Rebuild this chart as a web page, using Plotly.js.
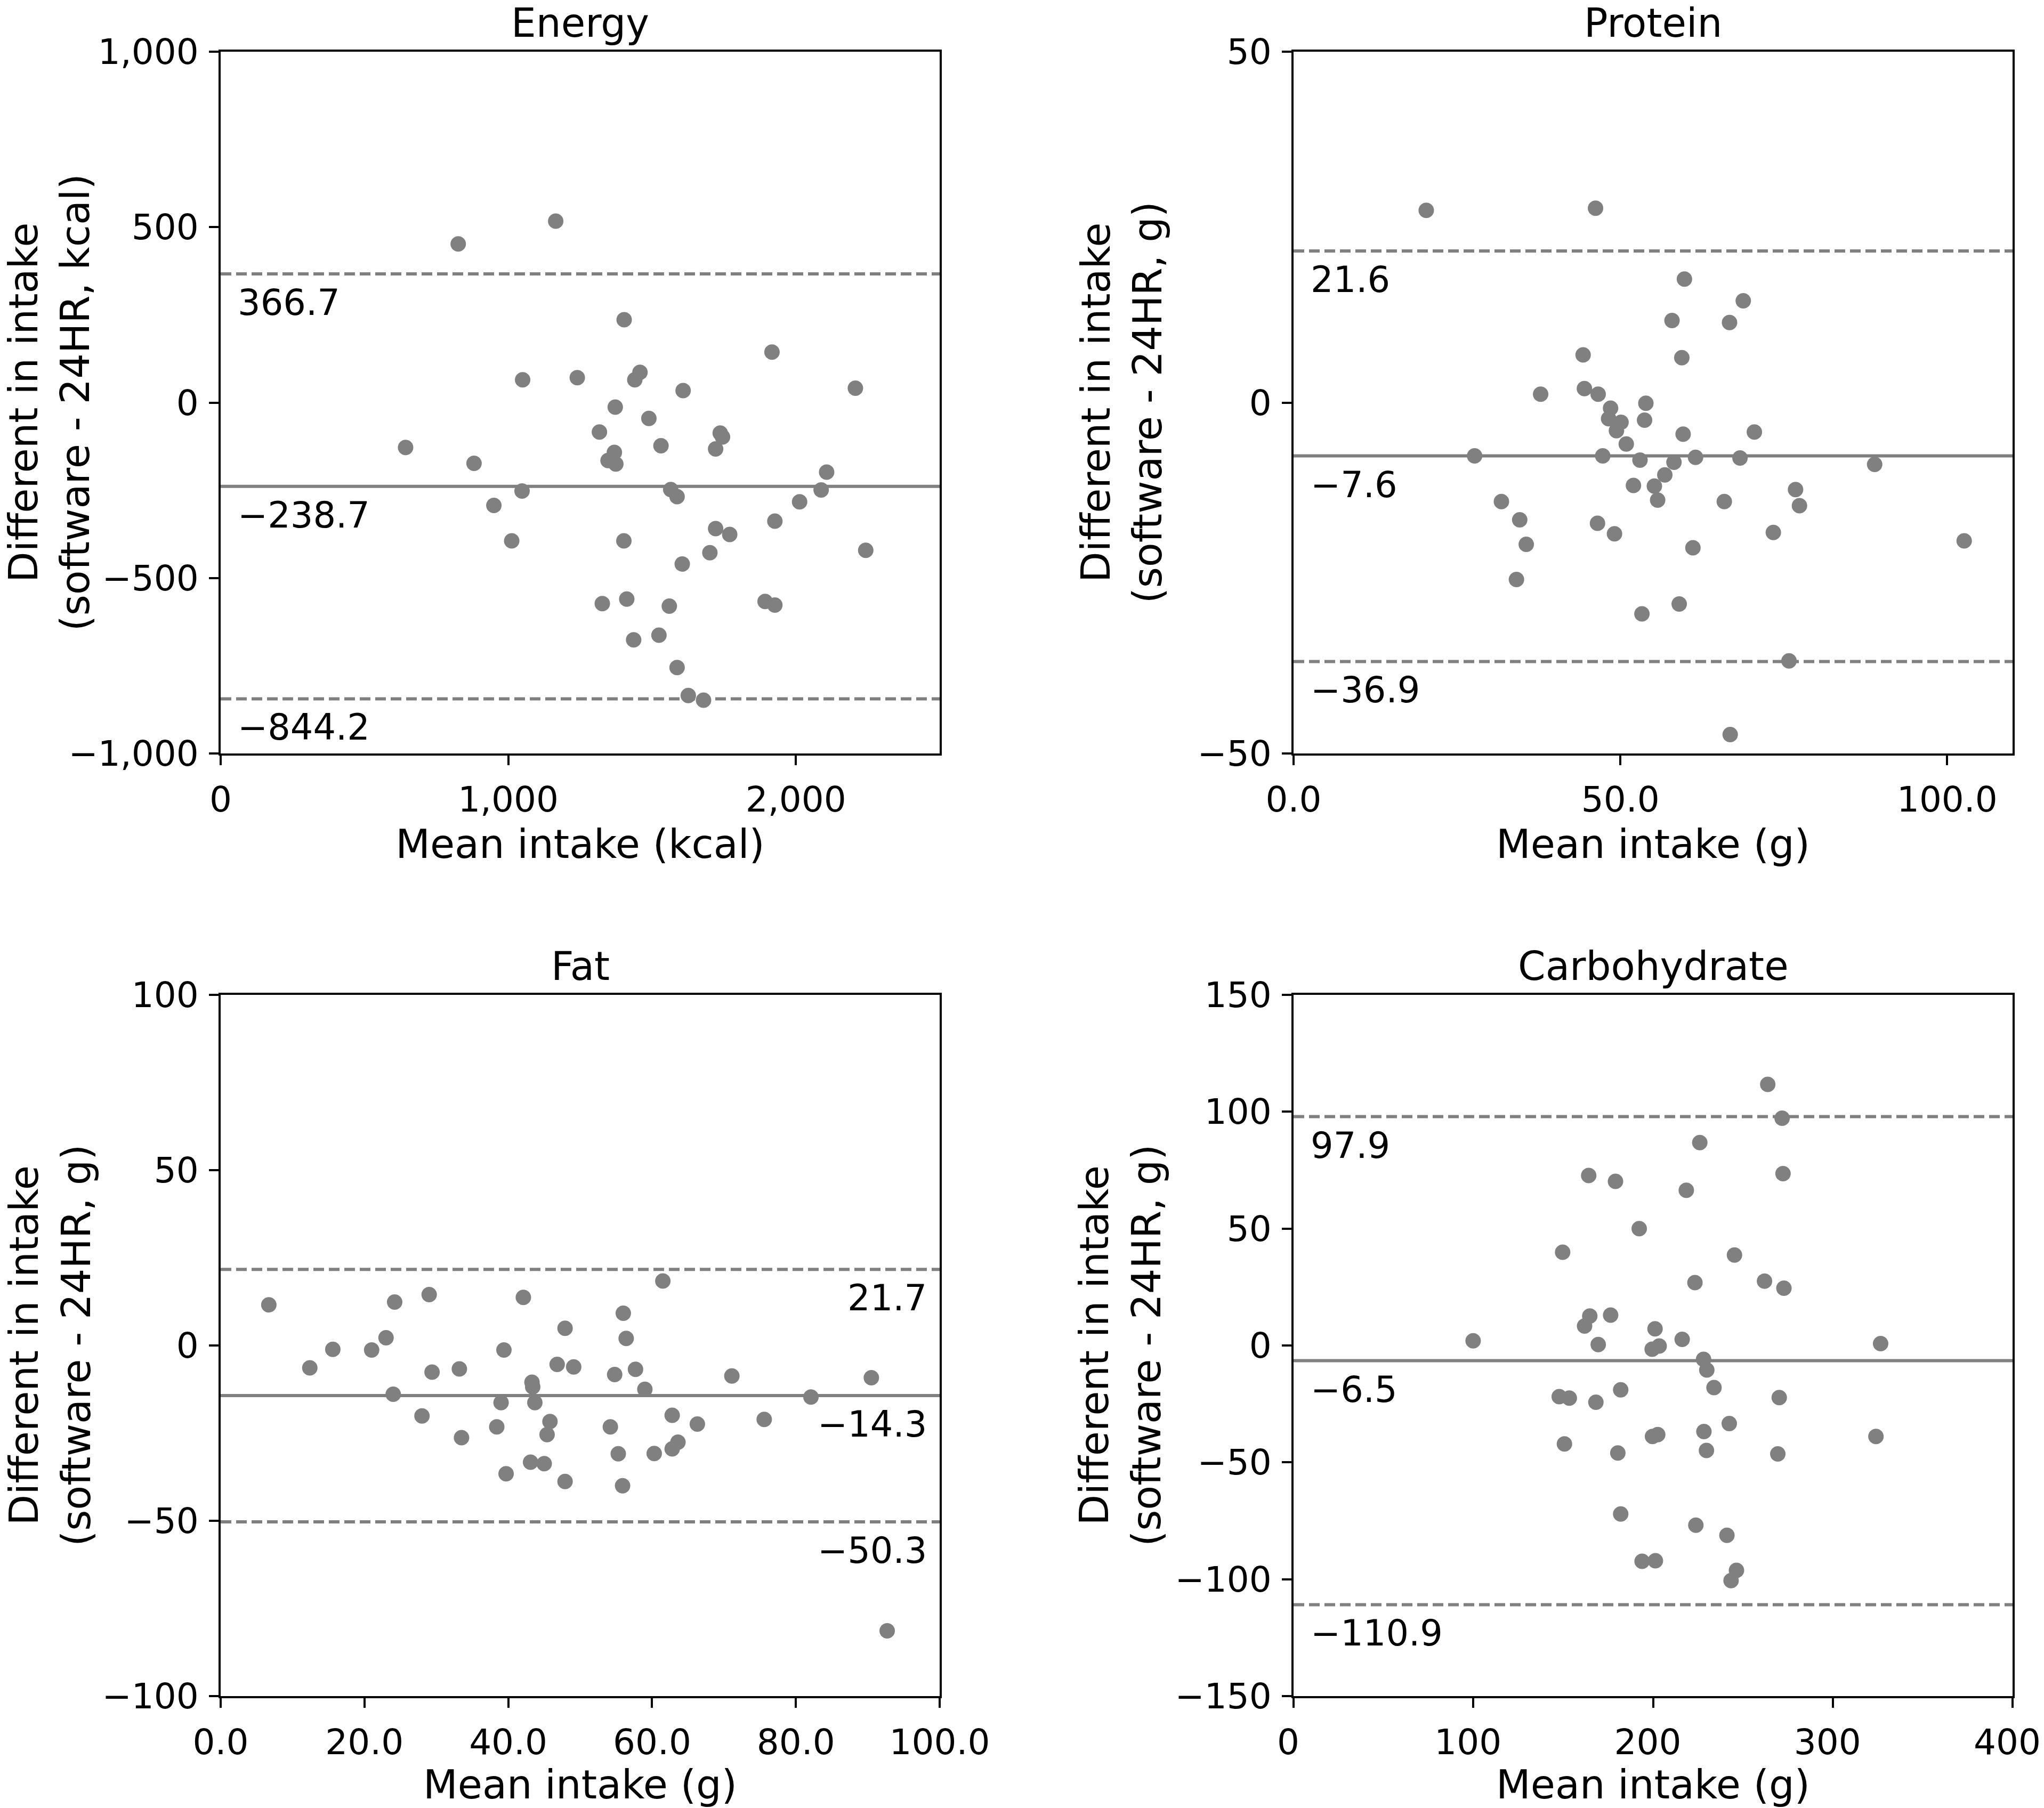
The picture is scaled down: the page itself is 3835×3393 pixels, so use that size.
<!DOCTYPE html>
<html>
<head>
<meta charset="utf-8">
<script src="https://cdn.plot.ly/plotly-3.0.1.min.js"></script>
<style>
html,body{margin:0;padding:0;background:#fff;}
#chart{width:3835px;height:3393px;}
</style>
</head>
<body>
<div id="chart"></div>
<script>
// ---------------- data ----------------
const panelTitles = ["Energy", "Protein", "Fat", "Carbohydrate"];
const xTitles = ["Mean intake (kcal)", "Mean intake (g)", "Mean intake (g)", "Mean intake (g)"];
const yTitles = [
  "Different in intake<br>(software - 24HR, kcal)",
  "Different in intake<br>(software - 24HR, g)",
  "Different in intake<br>(software - 24HR, g)",
  "Different in intake<br>(software - 24HR, g)"
];

const energyMean = [826,1165,1403,1917,1050,1240,1458,1440,1608,2207,1372,1489,1317,1737,1745,1531,1721,643,881,1369,1347,1374,2107,1048,1565,1587,2088,950,2013,1927,1012,1402,1721,1770,1701,2243,1605,1327,1412,1560,1893,1927,1436,1524,1587,1626,1679];
const energyDiff = [452,517,236,144,65,71,86,65,34,41,-13,-45,-84,-87,-98,-123,-132,-128,-173,-142,-165,-175,-198,-252,-248,-268,-249,-293,-283,-338,-394,-394,-359,-376,-428,-421,-460,-573,-560,-580,-567,-577,-676,-663,-755,-835,-848];
const energyLimits = [366.7, -238.7, -844.2]; // upper LoA, mean bias, lower LoA

const proteinMean = [20.3,46.2,59.8,68.8,57.9,66.7,59.4,44.3,37.8,44.5,46.6,48.5,53.9,48.2,50.1,49.4,53.7,59.6,70.5,50.9,27.7,47.3,53.0,58.2,61.5,68.3,88.9,56.8,52.0,55.2,55.7,76.8,77.4,31.8,65.9,34.6,46.5,49.1,73.4,35.6,61.1,102.6,34.1,53.3,59.0,75.8,66.8];
const proteinDiff = [27.4,27.7,17.6,14.5,11.7,11.4,6.4,6.8,1.2,2.0,1.2,-0.8,-0.1,-2.3,-2.8,-4.0,-2.5,-4.5,-4.2,-5.9,-7.6,-7.6,-8.2,-8.5,-7.8,-7.9,-8.8,-10.3,-11.8,-11.9,-13.9,-12.4,-14.7,-14.1,-14.1,-16.7,-17.2,-18.7,-18.5,-20.2,-20.7,-19.7,-25.2,-30.1,-28.7,-36.8,-47.3];
const proteinLimits = [21.6, -7.6, -36.9];

const fatMean = [6.7,12.4,15.6,21.0,23.0,24.2,24.0,29.0,29.4,28.0,33.2,33.5,42.1,39.4,39.0,38.4,39.7,43.3,43.4,43.7,43.1,45.0,45.8,45.4,47.9,46.8,49.1,47.9,56.0,56.4,54.8,57.7,59.0,54.2,55.3,55.9,61.5,62.8,63.6,62.8,60.3,66.3,71.1,75.6,82.1,90.5,92.7];
const fatDiff = [11.6,-6.4,-1.1,-1.3,2.2,12.4,-13.9,14.5,-7.6,-20.1,-6.7,-26.3,13.7,-1.3,-16.3,-23.2,-36.6,-10.5,-11.8,-16.3,-33.3,-33.7,-21.7,-25.4,4.9,-5.4,-6.1,-38.8,9.2,2.0,-8.3,-6.8,-12.5,-23.2,-30.9,-40.0,18.4,-19.9,-27.6,-29.5,-30.8,-22.4,-8.7,-21.1,-14.7,-9.2,-81.4];
const fatLimits = [21.7, -14.3, -50.3];

const carbMean = [263.8,271.8,226.0,272.3,164.2,179.1,218.5,192.3,149.7,245.3,223.3,262.0,272.8,164.8,176.4,161.9,201.1,99.9,216.2,326.6,169.5,203.4,199.5,228.1,229.9,233.9,182.0,147.8,153.4,168.2,270.2,242.4,228.3,199.7,202.6,324.0,150.7,229.7,180.4,269.4,182.0,223.8,241.1,193.9,201.3,246.4,243.4];
const carbDiff = [111.7,97.2,86.8,73.5,72.7,70.2,66.4,50.0,39.9,38.7,26.9,27.5,24.5,12.6,13.0,8.3,7.1,2.0,2.6,0.8,0.4,-0.2,-1.6,-5.9,-10.5,-18.0,-19.0,-21.9,-22.5,-24.3,-22.3,-33.4,-36.8,-38.9,-38.1,-38.9,-42.1,-44.9,-46.0,-46.4,-72.1,-76.9,-81.2,-92.3,-92.1,-96.2,-100.6];
const carbLimits = [97.9, -6.5, -110.9];

// axis ranges / ticks
const xRanges = [[0, 2500], [0, 110], [0, 100], [0, 400]];
const yRanges = [[-1000, 1000], [-50, 50], [-100, 100], [-150, 150]];
const xTickVals = [[0, 1000, 2000], [0, 50, 100], [0, 20, 40, 60, 80, 100], [0, 100, 200, 300, 400]];
const yTickVals = [[-1000, -500, 0, 500, 1000], [-50, 0, 50], [-100, -50, 0, 50, 100], [-150, -100, -50, 0, 50, 100, 150]];
const xFormats = [",", ".1f", ".1f", ""];
const yFormats = [",", "", "", ""];
const labelSide = ["left", "left", "right", "left"];

// ---------------- layout ----------------
const W = 3835, H = 3393;
const FONT = "DejaVu Sans, Verdana, sans-serif";
const GREY = "#808080";
const colDom = [[414 / W, 1763 / W], [2427 / W, 3776 / W]];
const rowDom = [[1 - 1414 / H, 1 - 97 / H], [1 - 3183 / H, 1 - 1867 / H]];
const yTitleX = [92, 2104, 94, 2102];
const xLabelShift = [0, 0, 0, -10];

const series = [
  [energyMean, energyDiff, energyLimits],
  [proteinMean, proteinDiff, proteinLimits],
  [fatMean, fatDiff, fatLimits],
  [carbMean, carbDiff, carbLimits]
];

const traces = [];
const shapes = [];
const annotations = [];
const layout = {
  width: W, height: H,
  margin: {l: 0, r: 0, t: 0, b: 0},
  paper_bgcolor: "#fff", plot_bgcolor: "#fff",
  showlegend: false,
  font: {family: FONT, color: "#000", size: 66}
};

function fmt(v) {
  return v.toFixed(1).replace("-", "\u2212");
}

function pad(r) {
  const e = (r[1] - r[0]) * 1e-6;
  return [r[0] - e, r[1] + e];
}

series.forEach((s, i) => {
  const n = i + 1;
  const xa = n === 1 ? "xaxis" : "xaxis" + n;
  const ya = n === 1 ? "yaxis" : "yaxis" + n;
  const xr = n === 1 ? "x" : "x" + n;
  const yr = n === 1 ? "y" : "y" + n;
  const col = i % 2, row = Math.floor(i / 2);

  traces.push({
    type: "scatter", mode: "markers",
    x: s[0], y: s[1], xaxis: xr, yaxis: yr,
    marker: {color: GREY, size: 29, line: {width: 0}},
    hoverinfo: "x+y"
  });

  const common = {
    showline: true, linecolor: "#000", linewidth: 4, mirror: true,
    ticks: "outside", ticklen: 18, tickwidth: 4, tickcolor: "#000",
    showgrid: false, zeroline: false, fixedrange: true,
    tickfont: {family: FONT, size: 66, color: "#000"},
    tickmode: "array", ticklabeloverflow: "allow"
  };
  layout[xa] = Object.assign({}, common, {
    domain: colDom[col], anchor: yr, range: pad(xRanges[i]),
    tickvals: xTickVals[i], ticklabelshift: xLabelShift[i],
    tickformat: xFormats[i], ticklabelstandoff: 8,
    title: {text: xTitles[i], font: {family: FONT, size: 75, color: "#000"}, standoff: 20}
  });
  layout[ya] = Object.assign({}, common, {
    domain: rowDom[row], anchor: xr, range: pad(yRanges[i]),
    tickvals: yTickVals[i],
    tickformat: yFormats[i], ticklabelstandoff: 6
  });

  // bias line and limits of agreement
  s[2].forEach((v, k) => {
    shapes.push({
      type: "line", xref: xr + " domain", x0: 0, x1: 1,
      yref: yr, y0: v, y1: v, layer: "below",
      line: {color: GREY, width: 6, dash: k === 1 ? "solid" : "20px,9px"}
    });
    const right = labelSide[i] === "right";
    annotations.push({
      xref: xr + " domain", x: right ? 0.984 : 0.022,
      xanchor: right ? "right" : "left",
      yref: yr, y: v, yanchor: "middle", yshift: -54,
      text: fmt(v), showarrow: false,
      font: {family: FONT, size: 67, color: "#000"}
    });
  });

  // panel title
  annotations.push({
    xref: "paper", yref: "paper",
    x: (colDom[col][0] + colDom[col][1]) / 2, y: rowDom[row][1],
    xanchor: "center", yanchor: "bottom", yshift: 9,
    text: panelTitles[i], showarrow: false,
    font: {family: FONT, size: 74, color: "#000"}
  });

  // y-axis title (two lines)
  annotations.push({
    xref: "paper", yref: "paper",
    x: yTitleX[i] / W, y: (rowDom[row][0] + rowDom[row][1]) / 2,
    xanchor: "center", yanchor: "middle", textangle: -90,
    text: yTitles[i], showarrow: false,
    font: {family: FONT, size: 75, color: "#000"}
  });
});

layout.shapes = shapes;
layout.annotations = annotations;

Plotly.newPlot("chart", traces, layout, {displayModeBar: false, responsive: false});
</script>
</body>
</html>
